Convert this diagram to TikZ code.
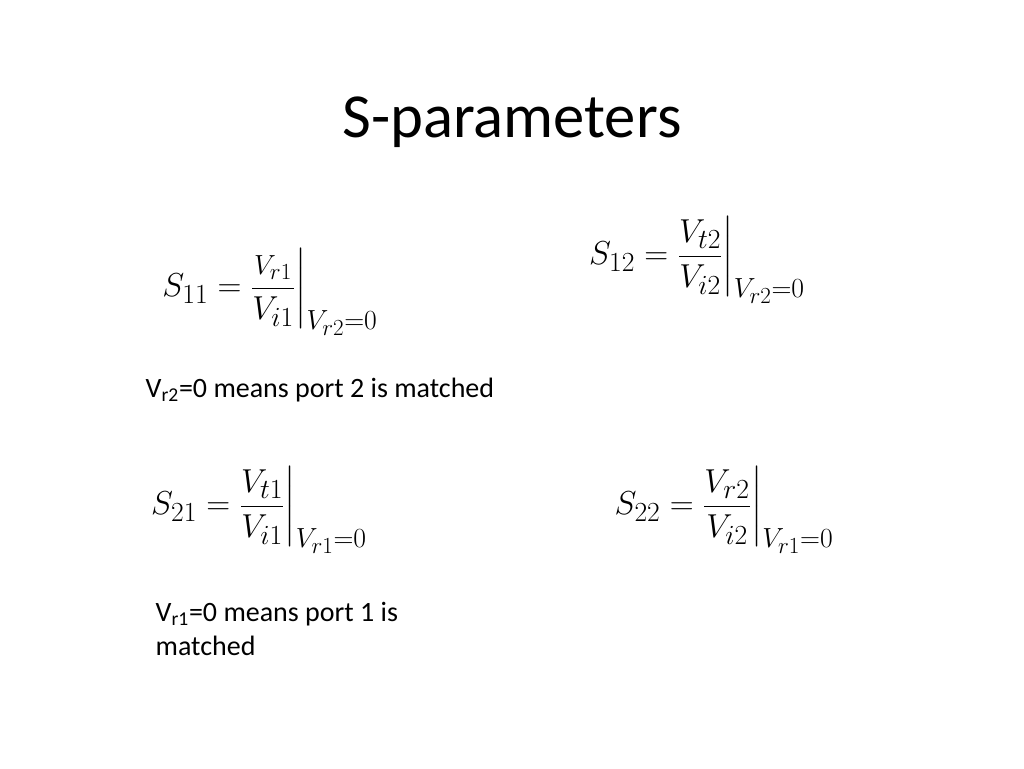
\documentclass[tikz,border=0pt]{standalone}
\usepackage{fontspec}
\setmainfont{Carlito}
\usepackage{amsmath}
\begin{document}
\begin{tikzpicture}[x=0.75pt,y=-0.75pt,
  eq/.style={anchor=center,font=\fontsize{32}{38}\selectfont},
  txt/.style={anchor=west,align=left,font=\fontsize{21}{26}\selectfont}]
\useasboundingbox (0,0) rectangle (1024,768);
\node (title) at (512,122) {\fontsize{47}{54}\selectfont S-parameters};
\node[eq] (s11) at (270,292) {$S_{11}=\dfrac{\scriptstyle V_{r1}}{V_{i1}}\bigg|_{V_{r2}=0}$};
\node[eq] (s12) at (697,260) {$S_{12}=\dfrac{V_{t2}}{V_{i2}}\bigg|_{V_{r2}=0}$};
\node[txt] (t1) at (141,390) {V\textsubscript{r2}=0 means port 2 is matched};
\node[eq] (s21) at (259,510) {$S_{21}=\dfrac{V_{t1}}{V_{i1}}\bigg|_{V_{r1}=0}$};
\node[eq] (s22) at (724,510) {$S_{22}=\dfrac{V_{r2}}{V_{i2}}\bigg|_{V_{r1}=0}$};
\node[txt] (t2) at (151,629) {V\textsubscript{r1}=0 means port 1 is\\matched};
\end{tikzpicture}
\end{document}
